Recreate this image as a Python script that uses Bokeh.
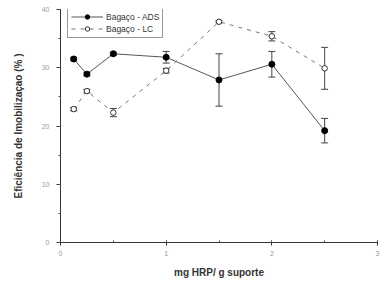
from bokeh.plotting import figure
from bokeh.models import ColumnDataSource, Whisker, Legend, LegendItem, SingleIntervalTicker, Range1d
from bokeh.embed import file_html
from bokeh.resources import INLINE

# data
x_vals = [0.125, 0.25, 0.5, 1.0, 1.5, 2.0, 2.5]
ads = [31.5, 28.9, 32.4, 31.8, 27.9, 30.6, 19.2]
ads_err = [0.3, 0.3, 0.3, 1.0, 4.5, 2.2, 2.1]
lc = [22.9, 26.0, 22.3, 29.5, 37.9, 35.4, 29.9]
lc_err = [0.3, 0.3, 0.7, 0.4, 0.2, 0.8, 3.6]
x_ticks = [0, 1, 2, 3]
y_ticks = [0, 10, 20, 30, 40]
label_ads = "Bagaço - ADS"
label_lc = "Bagaço - LC"

src_ads = ColumnDataSource(dict(x=x_vals, y=ads,
                                lo=[v - e for v, e in zip(ads, ads_err)],
                                hi=[v + e for v, e in zip(ads, ads_err)]))
src_lc = ColumnDataSource(dict(x=x_vals, y=lc,
                               lo=[v - e for v, e in zip(lc, lc_err)],
                               hi=[v + e for v, e in zip(lc, lc_err)]))

p = figure(width=388, height=284, output_backend="svg", toolbar_location=None,
           x_range=Range1d(0, 3), y_range=Range1d(0, 40),
           min_border_left=60, min_border_right=11, min_border_top=9, min_border_bottom=42)
p.outline_line_color = None
p.xgrid.grid_line_color = None
p.ygrid.grid_line_color = None
p.background_fill_color = "white"
p.border_fill_color = "white"

# axes
p.xaxis.ticker = SingleIntervalTicker(interval=1, num_minor_ticks=2)
p.yaxis.ticker = SingleIntervalTicker(interval=10, num_minor_ticks=2)
for ax in (p.xaxis[0], p.yaxis[0]):
    ax.axis_line_color = "#333333"
    ax.major_tick_line_color = "#333333"
    ax.minor_tick_line_color = "#555555"
    ax.major_label_text_color = "#999999"
    ax.major_label_text_font = "Liberation Sans"
    ax.major_label_text_font_size = "7px"
    ax.axis_label_text_font = "Liberation Sans"
    ax.axis_label_text_font_style = "bold"
    ax.axis_label_text_font_size = "10px"
    ax.axis_label_text_color = "#333333"

p.xaxis.major_tick_out = 3
p.xaxis.major_tick_in = 2
p.xaxis.minor_tick_out = 0
p.xaxis.minor_tick_in = 2
p.xaxis.major_label_standoff = 5
p.xaxis.axis_label = "mg HRP/ g suporte"
p.xaxis.axis_label_standoff = 8

p.yaxis.major_tick_out = 4
p.yaxis.major_tick_in = 0
p.yaxis.minor_tick_out = 2
p.yaxis.minor_tick_in = 0
p.yaxis.major_label_standoff = 7
p.yaxis.axis_label = "Eficiência de Imobilizaçao (% )"
p.yaxis.axis_label_standoff = 15

# error bars
for src in (src_ads, src_lc):
    w = Whisker(source=src, base="x", lower="lo", upper="hi",
                line_color="#444444", line_width=1)
    w.upper_head.size = 7
    w.lower_head.size = 7
    w.upper_head.line_color = "#444444"
    w.lower_head.line_color = "#444444"
    p.add_layout(w)

l1 = p.line("x", "y", source=src_ads, line_color="#555555", line_width=1)
m1 = p.scatter("x", "y", source=src_ads, marker="circle", size=6,
               fill_color="black", line_color="black")
l2 = p.line("x", "y", source=src_lc, line_color="#777777", line_width=1,
            line_dash="4 5")
m2 = p.scatter("x", "y", source=src_lc, marker="circle", size=5.5,
               fill_color="white", line_color="#333333", line_width=1)

legend = Legend(items=[LegendItem(label=label_ads, renderers=[l1, m1]),
                       LegendItem(label=label_lc, renderers=[l2, m2])],
                location=(7, 204))
legend.label_text_font = "Liberation Sans"
legend.label_text_font_size = "8.5px"
legend.label_text_color = "#333333"
legend.glyph_height = 11
legend.glyph_width = 32
legend.label_height = 11
legend.label_standoff = 3
legend.spacing = 1
legend.padding = 3
legend.margin = 0
legend.border_line_color = "#333333"
legend.border_line_width = 1
legend.background_fill_alpha = 1
p.add_layout(legend)

open("out.html", "w").write(file_html(p, INLINE))
